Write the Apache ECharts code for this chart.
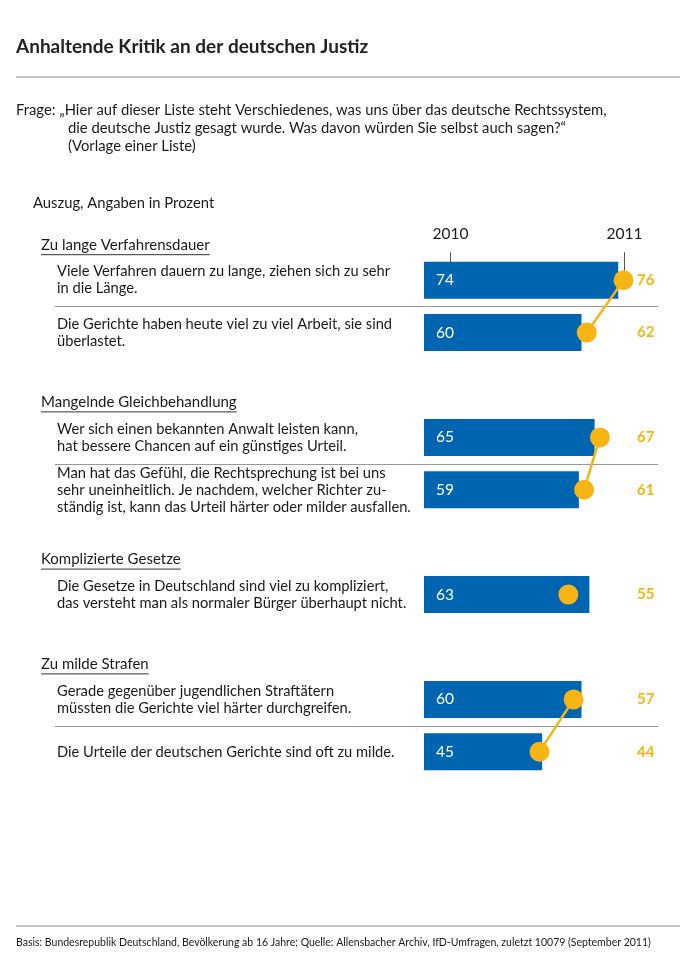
<!DOCTYPE html>
<html>
<head>
<meta charset="utf-8">
<script src="https://cdn.jsdelivr.net/npm/echarts@6/dist/echarts.min.js"></script>
<style>
html, body { margin: 0; padding: 0; background: #fff; }
#chart { width: 680px; height: 970px; }
</style>
</head>
<body>
<div id="chart"></div>
<script>
// rows of the chart, empty rows are the gaps between the groups
var statements = [
	'Viele Verfahren dauern zu lange, ziehen sich zu sehr\nin die Länge.',
	'Die Gerichte haben heute viel zu viel Arbeit, sie sind\nüberlastet.',
	'',
	'Wer sich einen bekannten Anwalt leisten kann,\nhat bessere Chancen auf ein günstiges Urteil.',
	'Man hat das Gefühl, die Rechtsprechung ist bei uns\nsehr uneinheitlich. Je nachdem, welcher Richter zu-\nständig ist, kann das Urteil härter oder milder ausfallen.',
	'',
	'Die Gesetze in Deutschland sind viel zu kompliziert,\ndas versteht man als normaler Bürger überhaupt nicht.',
	'',
	'Gerade gegenüber jugendlichen Straftätern\nmüssten die Gerichte viel härter durchgreifen.',
	'Die Urteile der deutschen Gerichte sind oft zu milde.'
];
var values2010 = [74, 60, '-', 65, 59, '-', 63, '-', 60, 45];
var values2011 = [76, 62, '-', 67, 61, '-', 55, '-', 57, 44];
var groupNames = ['Zu lange Verfahrensdauer', 'Mangelnde Gleichbehandlung', 'Komplizierte Gesetze', 'Zu milde Strafen'];
var groupStart = [0, 3, 6, 8];
var dividerAfter = [0, 3, 8];
var years = ['2010', '2011'];

var title = 'Anhaltende Kritik an der deutschen Justiz';
var question = [
	'Frage: „Hier auf dieser Liste steht Verschiedenes, was uns über das deutsche Rechtssystem,',
	'die deutsche Justiz gesagt wurde. Was davon würden Sie selbst auch sagen?“',
	'(Vorlage einer Liste)'
];
var note = 'Auszug, Angaben in Prozent';
var source = 'Basis: Bundesrepublik Deutschland, Bevölkerung ab 16 Jahre; Quelle: Allensbacher Archiv, IfD-Umfragen, zuletzt 10079 (September 2011)';

var FONT = 'Lato';
var BLUE = '#0065B0';
var YELLOW = '#F6B515';
var TEXT = '#1a1a1a';

var chart = echarts.init(document.getElementById('chart'));

var option = {
	animation: false,
	textStyle: { fontFamily: FONT },
	title: {
		text: title,
		left: 16,
		top: 37,
		padding: 0,
		textStyle: { fontFamily: FONT, fontSize: 19, fontWeight: 'bold', color: '#222' }
	},
	grid: {
		left: 424,
		right: 46,
		top: 254,
		bottom: 192
	},
	xAxis: {
		type: 'value',
		min: 0,
		max: 80,
		show: false
	},
	yAxis: [
		{
			type: 'category',
			inverse: true,
			data: statements,
			axisLine: { show: false },
			axisTick: { show: false },
			axisLabel: {
				interval: 0,
				align: 'left',
				margin: 367,
				fontSize: 14.7,
				lineHeight: 17,
				color: TEXT
			}
		},
		{
			type: 'category',
			inverse: true,
			position: 'right',
			data: statements,
			axisLine: { show: false },
			axisTick: { show: false },
			axisLabel: {
				interval: 0,
				align: 'left',
				margin: 3,
				fontSize: 15,
				fontWeight: 'bold',
				color: YELLOW,
				formatter: function (v, i) {
					return values2011[i] === '-' ? '' : String(values2011[i]);
				}
			}
		}
	],
	series: [
		{
			name: years[0],
			type: 'bar',
			yAxisIndex: 0,
			barWidth: 37,
			data: values2010,
			itemStyle: { color: BLUE },
			label: {
				show: true,
				position: 'insideLeft',
				distance: 12,
				color: '#fff',
				fontSize: 15.5
			}
		},
		{
			name: years[1],
			type: 'line',
			yAxisIndex: 0,
			data: values2011,
			connectNulls: false,
			symbol: 'circle',
			symbolSize: 20,
			showAllSymbol: true,
			itemStyle: { color: YELLOW },
			lineStyle: { color: YELLOW, width: 2.5 },
			z: 5
		}
	]
};
chart.setOption(option);

// text and rules around the plot, placed from the axes
var ctx = document.createElement('canvas').getContext('2d');
ctx.font = '15px ' + FONT;
function rowY(i) { return chart.convertToPixel({ yAxisIndex: 0 }, i); }
function valX(v) { return chart.convertToPixel({ xAxisIndex: 0 }, v); }

var els = [];
els.push({ type: 'line', shape: { x1: 16, y1: 77, x2: 680, y2: 77 }, style: { stroke: '#888', lineWidth: 1 } });
els.push({ type: 'text', x: 16, y: 110, style: { text: question[0], font: '14.8px ' + FONT, fill: TEXT, verticalAlign: 'middle' } });
els.push({ type: 'text', x: 68, y: 128, style: { text: question[1], font: '14.8px ' + FONT, fill: TEXT, verticalAlign: 'middle' } });
els.push({ type: 'text', x: 68, y: 146, style: { text: question[2], font: '14.8px ' + FONT, fill: TEXT, verticalAlign: 'middle' } });
els.push({ type: 'text', x: 33, y: 203, style: { text: note, font: '14.8px ' + FONT, fill: TEXT, verticalAlign: 'middle' } });

groupNames.forEach(function (name, g) {
	var y = rowY(groupStart[g]) - 35;
	var w = ctx.measureText(name).width;
	els.push({ type: 'text', x: 41, y: y, style: { text: name, font: '15px ' + FONT, fill: TEXT, verticalAlign: 'middle' } });
	els.push({ type: 'line', shape: { x1: 41, y1: y + 9.5, x2: 41 + w, y2: y + 9.5 }, style: { stroke: '#333', lineWidth: 1 } });
});

dividerAfter.forEach(function (i) {
	var y = Math.round((rowY(i) + rowY(i + 1)) / 2) + 0.5;
	els.push({ type: 'line', shape: { x1: 55, y1: y, x2: 658, y2: y }, style: { stroke: '#999', lineWidth: 1 } });
});

var top0 = rowY(0);
var x2010 = Math.round(valX(10)) + 0.5;
var x2011 = Math.round(valX(values2011[0])) + 0.5;
els.push({ type: 'text', x: x2010, y: top0 - 46, style: { text: years[0], font: '15.5px ' + FONT, fill: TEXT, align: 'center', verticalAlign: 'middle' } });
els.push({ type: 'text', x: x2011, y: top0 - 46, style: { text: years[1], font: '15.5px ' + FONT, fill: TEXT, align: 'center', verticalAlign: 'middle' } });
els.push({ type: 'line', shape: { x1: x2010, y1: top0 - 28, x2: x2010, y2: top0 - 18 }, style: { stroke: '#555', lineWidth: 1 } });
els.push({ type: 'line', shape: { x1: x2011, y1: top0 - 28, x2: x2011, y2: top0 - 8 }, style: { stroke: '#555', lineWidth: 1 } });

els.push({ type: 'line', shape: { x1: 16, y1: 926, x2: 680, y2: 926 }, style: { stroke: '#888', lineWidth: 1 } });
els.push({ type: 'text', x: 16, y: 943, style: { text: source, font: '10.5px ' + FONT, fill: TEXT, verticalAlign: 'middle' } });

chart.setOption({ graphic: els });
</script>
</body>
</html>
